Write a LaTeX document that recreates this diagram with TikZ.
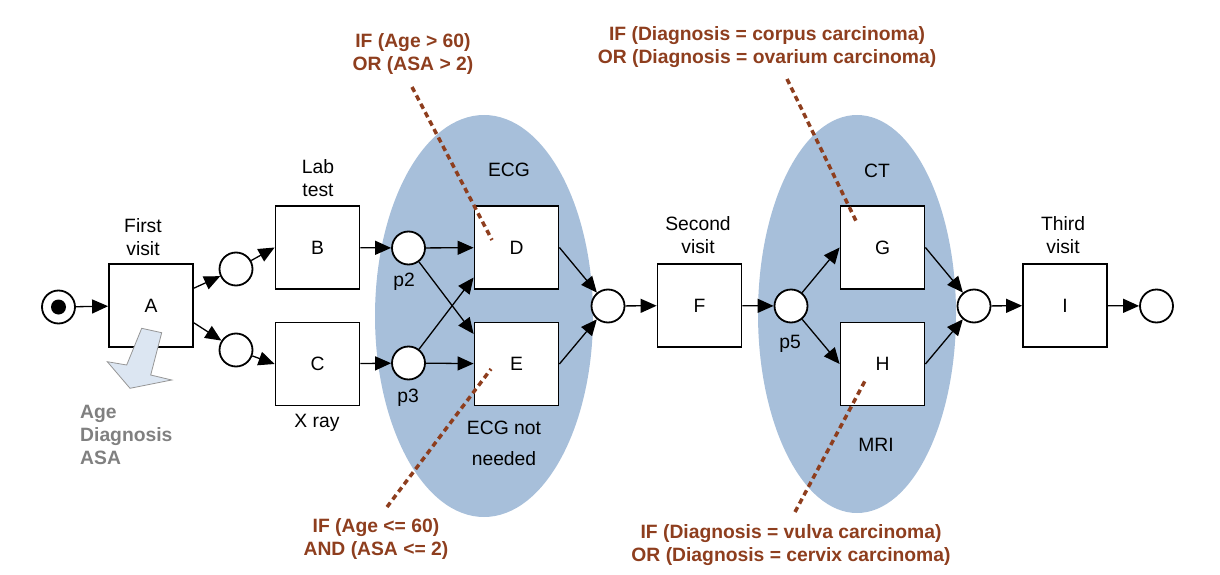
\documentclass[tikz,border=0pt]{standalone}
\usepackage{fontspec}
\setmainfont{Liberation Sans}
\usetikzlibrary{arrows.meta,shapes.geometric}
\definecolor{ovalblue}{RGB}{167,191,218}
\definecolor{condred}{RGB}{142,62,30}
\definecolor{datagray}{RGB}{128,128,128}
\definecolor{datafill}{RGB}{220,230,242}
\definecolor{dataedge}{RGB}{150,150,150}
\begin{document}
\begin{tikzpicture}[x=1pt,y=-1pt,
  every node/.style={font=\fontsize{19.3}{23}\selectfont},
  trans/.style={draw, line width=1.8pt, fill=white, minimum width=84pt, minimum height=83pt, inner sep=0pt},
  place/.style={circle, draw, line width=1.8pt, fill=white, minimum size=33pt, inner sep=0pt},
  token/.style={circle, fill=black, minimum size=15pt, inner sep=0pt},
  arc/.style={line width=1.3pt, -{Triangle[length=16pt,width=14pt]}},
  lbl/.style={align=center, inner sep=0pt},
  cond/.style={align=center, inner sep=0pt, text=condred, font=\fontsize{19.3}{23}\bfseries\selectfont},
  condline/.style={draw=condred, line width=3.5pt, dash pattern=on 5.5pt off 4pt},
  oval/.style={ellipse, fill=ovalblue, draw=none, inner sep=0pt}
]
\useasboundingbox (0,0) rectangle (1220,575);

% regions
\node[oval, minimum width=218pt, minimum height=402pt] (ecg) at (484,316) {};
\node[oval, minimum width=198pt, minimum height=398pt] (ctmri) at (857,314) {};

% places and transitions
\node[place] (start) at (58.5,307) {};
\node[token] (tok) at (start) {};
\node[trans] (A) at (151,305.5) {A};
\node[place] (pa) at (236,269) {};
\node[place] (pb) at (236,350) {};
\node[trans] (B) at (317.5,247.5) {B};
\node[trans] (C) at (317.5,364) {C};
\node[place] (p2) at (408.5,248) {};
\node[place] (p3) at (408.5,363) {};
\node[trans] (D) at (516.5,247.5) {D};
\node[trans] (E) at (516.5,364) {E};
\node[place] (pde) at (608,306) {};
\node[trans] (F) at (699.5,305.5) {F};
\node[place] (p5) at (791,306) {};
\node[trans] (G) at (882.5,247.5) {G};
\node[trans] (H) at (882.5,364) {H};
\node[place] (pgh) at (974,306) {};
\node[trans] (I) at (1065,305.5) {I};
\node[place] (end) at (1156.5,306) {};

% arcs
\draw[arc] (start) -- (A);
\draw[arc] (A.22) -- (pa);
\draw[arc] (A.-22) -- (pb);
\draw[arc] (pa) -- (B.west);
\draw[arc] (pb) -- (C.west);
\draw[arc] (B) -- (p2);
\draw[arc] (C) -- (p3);
\draw[arc] (p2) -- (D);
\draw[arc] (p2) -- (E.145);
\draw[arc] (p3) -- (D.215);
\draw[arc] (p3) -- (E);
\draw[arc] (D.east) -- (pde);
\draw[arc] (E.east) -- (pde);
\draw[arc] (pde) -- (F);
\draw[arc] (F) -- (p5);
\draw[arc] (p5) -- (G.west);
\draw[arc] (p5) -- (H.west);
\draw[arc] (G.east) -- (pgh);
\draw[arc] (H.east) -- (pgh);
\draw[arc] (pgh) -- (I);
\draw[arc] (I) -- (end);

% labels
\node[lbl] (lA) at (143,237) {First\\visit};
\node[lbl] (lB) at (318,178) {Lab\\test};
\node[lbl] (lC) at (317,423) {X ray};
\node[lbl] (lD) at (509,170) {ECG};
\node[lbl, font=\fontsize{19.3}{31}\selectfont] (lE) at (504,443) {ECG not\\needed};
\node[lbl] (lp2) at (404,282) {p2};
\node[lbl] (lp3) at (408,398) {p3};
\node[lbl] (lF) at (698,235) {Second\\visit};
\node[lbl] (lp5) at (790,344) {p5};
\node[lbl] (lG) at (877,171) {CT};
\node[lbl] (lH) at (876,445) {MRI};
\node[lbl] (lI) at (1063,235) {Third\\visit};

% data arrow
\filldraw[fill=datafill, draw=dataedge, line width=0.8pt]
  (141.7,328.3) -- (161.7,332.7) -- (150.7,375) -- (171.7,380) -- (130,388.3) -- (107.3,361.7) -- (126.7,365) -- cycle;
\node[lbl, align=left, anchor=west, text=datagray, font=\fontsize{19.3}{23}\bfseries\selectfont] (data) at (80,434.5) {Age\\Diagnosis\\ASA};

% conditions
\node[cond] (cD) at (413,54.5) {IF (Age > 60)\\OR (ASA > 2)};
\node[cond] (cE) at (376,539.5) {IF (Age <= 60)\\AND (ASA <= 2)};
\node[cond] (cG) at (767,47) {IF (Diagnosis = corpus carcinoma)\\OR (Diagnosis = ovarium carcinoma)};
\node[cond] (cH) at (791,545.5) {IF (Diagnosis = vulva carcinoma)\\OR (Diagnosis = cervix carcinoma)};

\coordinate (qD1) at (412,87);  \coordinate (qD2) at (492,240);
\coordinate (qE1) at (387,507); \coordinate (qE2) at (491,369);
\coordinate (qG1) at (787,79);  \coordinate (qG2) at (857,223);
\coordinate (qH1) at (795,512); \coordinate (qH2) at (866,379);
\draw[condline] (qD1) -- (qD2);
\draw[condline] (qE1) -- (qE2);
\draw[condline] (qG1) -- (qG2);
\draw[condline] (qH1) -- (qH2);
\end{tikzpicture}
\end{document}
